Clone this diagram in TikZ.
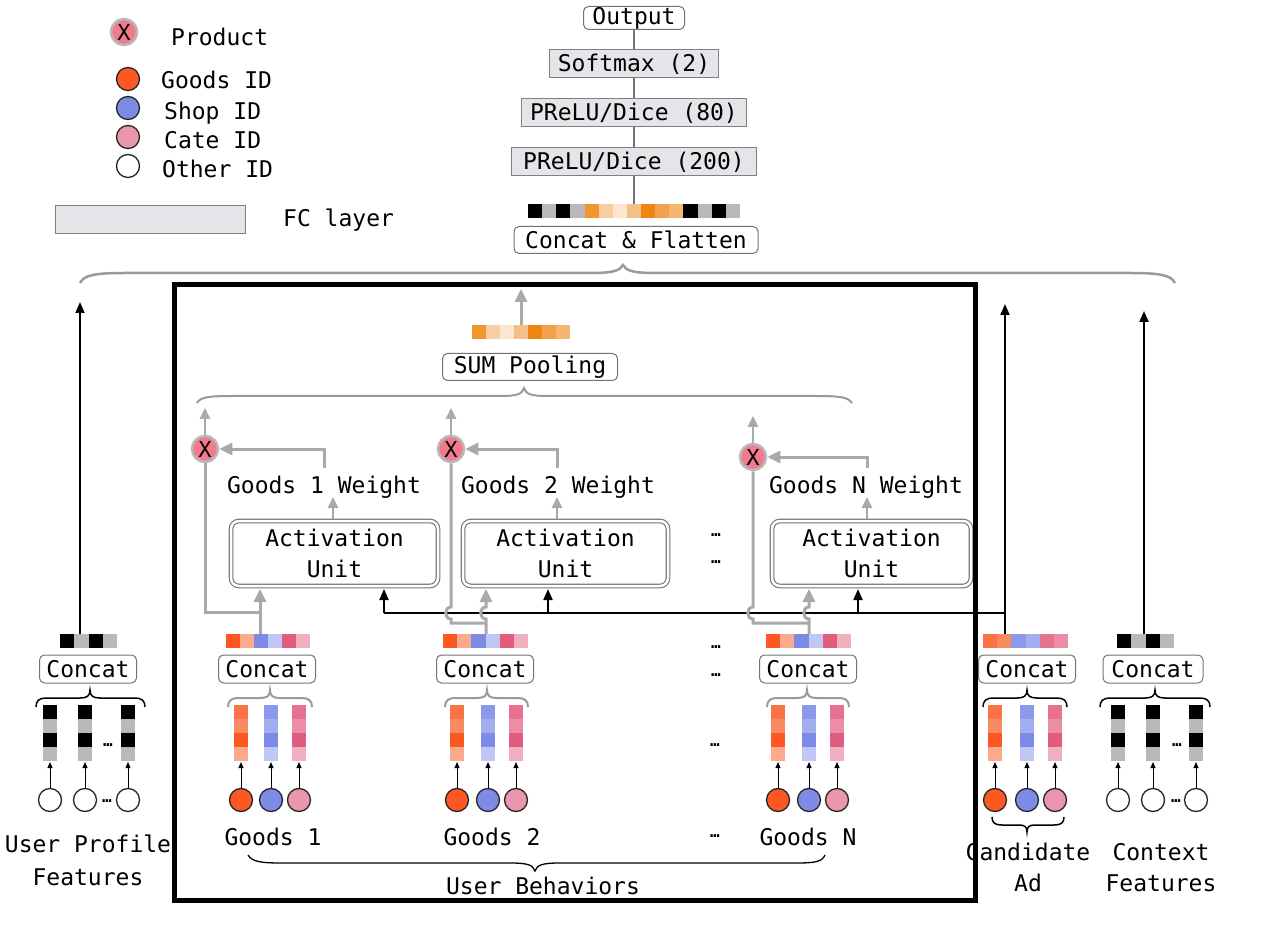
\documentclass[tikz,border=0pt]{standalone}
\usepackage{fontspec}
\setmonofont{DejaVu Sans Mono}
\usetikzlibrary{arrows.meta,calc}
\definecolor{pinkX}{HTML}{F37A8C}
\definecolor{goodsC}{HTML}{FD5722}
\definecolor{shopC}{HTML}{7B8BE6}
\definecolor{cateC}{HTML}{E995AB}
\definecolor{fcgray}{HTML}{E4E5E9}
\definecolor{lgray}{HTML}{B9B9B9}
\definecolor{agray}{HTML}{A9A9A9}
\definecolor{bgray}{HTML}{9A9A9A}
\definecolor{o1}{HTML}{F0962E}
\definecolor{o2}{HTML}{F8CDA0}
\definecolor{o3}{HTML}{FDE6D1}
\definecolor{o4}{HTML}{F3C08A}
\definecolor{o5}{HTML}{EE8711}
\definecolor{o6}{HTML}{F1A24A}
\definecolor{o7}{HTML}{F3B771}
\definecolor{ob1}{HTML}{F97346}
\definecolor{ob2}{HTML}{F98A63}
\definecolor{ob3}{HTML}{FD5722}
\definecolor{ob4}{HTML}{FBAA8C}
\definecolor{bb1}{HTML}{8C98EA}
\definecolor{bb2}{HTML}{A4AEEE}
\definecolor{bb3}{HTML}{7B8BE6}
\definecolor{bb4}{HTML}{C0C7F4}
\definecolor{pb1}{HTML}{E77190}
\definecolor{pb2}{HTML}{EB8DA5}
\definecolor{pb3}{HTML}{E25C80}
\definecolor{pb4}{HTML}{F0B0C0}
\newcommand\hvec[4]{\foreach \vcol [count=\vidx from 0] in {#4} {\fill[\vcol] ({#1+#3*\vidx},#2) rectangle ++(#3,14);}}
\newcommand\vbar[5]{\foreach \vcol [count=\vidx from 0] in {#2,#3,#4,#5} {\fill[\vcol] ({#1-7},{705+14*\vidx}) rectangle ++(14,14);}}
\newcommand\featcol[7]{\vbar{#2}{#4}{#5}{#6}{#7}\node[idc,fill=#3] (#1) at (#2,800) {};\draw[sarrow] (#1.north) -- (#2,762);}
\newcommand\mybrace[4]{\draw[#1] (#2,707) .. controls (#2,701) and ({#2+3},698) .. ({#2+10},698) -- ({#4-10},698) .. controls ({#4-3},698) and (#4,696) .. (#4,690) .. controls (#4,696) and ({#4+3},698) .. ({#4+10},698) -- ({#3-10},698) .. controls ({#3-3},698) and (#3,701) .. (#3,707);}
\begin{document}
\begin{tikzpicture}[x=1pt,y=-1pt,
 txt/.style={font=\fontsize{23}{28}\selectfont\ttfamily,inner sep=0pt},
 dots/.style={font=\fontsize{16}{18}\selectfont\ttfamily\bfseries,inner sep=0pt},
 rbox/.style={txt,draw=black!55,line width=1pt,rounded corners=5pt,fill=white},
 fc/.style={txt,draw=black!50,line width=1pt,fill=fcgray},
 aunit/.style={font=\fontsize{23}{31}\selectfont\ttfamily,align=center,draw=black!55,double=white,double distance=2.5pt,line width=1.1pt,rounded corners=8pt,inner sep=0pt},
 prod/.style={circle,fill=pinkX,draw=black!28,line width=2.5pt,minimum size=26pt,inner sep=0pt,font=\fontsize{22}{24}\selectfont\ttfamily},
 idc/.style={circle,draw=black!85,line width=1.3pt,minimum size=23pt,inner sep=0pt},
 garrow/.style={draw=agray,line width=3pt,-{Triangle[length=13pt,width=12pt]}},
 gsarrow/.style={draw=agray,line width=2.5pt,-{Triangle[length=11pt,width=10pt]}},
 gline/.style={draw=agray,line width=3pt},
 barrow/.style={draw=black,line width=2pt,-{Triangle[length=11pt,width=9pt]}},
 sarrow/.style={draw=black,line width=1pt,-{Triangle[length=6pt,width=5pt]}},
 tline/.style={draw=black!55,line width=1.3pt},
 vecnode/.style={inner sep=0pt,minimum height=14pt},
 gbrace/.style={draw=bgray,line width=2pt},
 kbrace/.style={draw=black,line width=1.5pt},
]
\fill[white] (0,0) rectangle (1262,933);
\useasboundingbox (0,0) rectangle (1262,933);
% legend
\node[prod] (lgX) at (124,32) {X};
\node[txt,anchor=west] (lgXt) at (171,37) {Product};
\node[idc,fill=goodsC] (lgG) at (128,79) {};
\node[txt,anchor=west] (lgGt) at (161,80) {Goods ID};
\node[idc,fill=shopC] (lgS) at (128,108) {};
\node[txt,anchor=west] (lgSt) at (164,113) {Shop ID};
\node[idc,fill=cateC] (lgC) at (128,137) {};
\node[txt,anchor=west] (lgCt) at (164,140) {Cate ID};
\node[idc,fill=white] (lgO) at (128,166) {};
\node[txt,anchor=west] (lgOt) at (162,169) {Other ID};
\node[fc,minimum width=190pt,minimum height=28pt] (lgF) at (150,220) {};
\node[txt,anchor=west] (lgFt) at (283,220) {FC layer};
% top stack
\node[rbox,minimum width=101pt,minimum height=23pt] (out) at (634,18) {Output};
\node[fc,minimum width=169pt,minimum height=28pt] (sm) at (634,64) {Softmax (2)};
\node[fc,minimum width=225pt,minimum height=28pt] (p80) at (634,113) {PReLU/Dice (80)};
\node[fc,minimum width=245pt,minimum height=28pt] (p200) at (634,162) {PReLU/Dice (200)};
\hvec{528}{204}{14.13}{black,lgray,black,lgray,o1,o2,o3,o4,o5,o6,o7,black,lgray,black,lgray}
\node[vecnode,minimum width=212pt] (topv) at (634,211) {};
\node[rbox,minimum width=244pt,minimum height=27pt] (cf) at (636,240) {Concat \& Flatten};
\draw[tline] (out) -- (sm);
\draw[tline] (sm) -- (p80);
\draw[tline] (p80) -- (p200);
\draw[tline] (p200) -- (topv);
% big brace
\draw[gbrace,line width=2.5pt] (80,283) .. controls (84,275) and (95,273) .. (125,273) -- (590,273) .. controls (612,273) and (620,271) .. (623,265) .. controls (626,271) and (634,273) .. (656,273) -- (1130,273) .. controls (1160,273) and (1171,275) .. (1175,283);
% sum pooling
\hvec{472}{325}{14}{o1,o2,o3,o4,o5,o6,o7}
\node[vecnode,minimum width=98pt] (sumv) at (521,332) {};
\coordinate (sumtip) at (521,289);
\draw[garrow] (sumv) -- (sumtip);
\node[rbox,minimum width=175pt,minimum height=27pt] (sp) at (530,367) {SUM Pooling};
\draw[gbrace] (197,403) .. controls (200,397) and (210,396) .. (232,396) -- (500,396) .. controls (518,396) and (522,394) .. (524,388) .. controls (526,394) and (530,396) .. (548,396) -- (815,396) .. controls (840,396) and (848,397) .. (852,403);
% products
\node[prod] (x1) at (205,449) {X};
\node[prod] (x2) at (451,449) {X};
\node[prod] (xn) at (753,457) {X};
\coordinate (x1t) at (205,408);
\coordinate (x2t) at (451,408);
\coordinate (xnt) at (753,416);
\draw[gsarrow] (x1) -- (x1t);
\draw[gsarrow] (x2) -- (x2t);
\draw[gsarrow] (xn) -- (xnt);
% weights
\node[txt] (w1) at (324,487) {Goods 1 Weight};
\node[txt] (w2) at (558,487) {Goods 2 Weight};
\node[txt] (wn) at (866,487) {Goods N Weight};
\draw[garrow] (324,468) |- (x1);
\draw[garrow] (557,468) |- (x2);
\draw[garrow] (867,468) |- (xn);
% activation units
\node[aunit,minimum width=207pt,minimum height=65pt] (au1) at (334.5,553.5) {Activation\\Unit};
\node[aunit,minimum width=205pt,minimum height=65pt] (au2) at (565.5,553.5) {Activation\\Unit};
\node[aunit,minimum width=199pt,minimum height=65pt] (aun) at (871.5,553.5) {Activation\\Unit};
\draw[gsarrow] (333,519) -- (333,497);
\draw[gsarrow] (557,519) -- (557,497);
\draw[gsarrow] (867,519) -- (867,497);
% dots
\node[dots] (d1) at (716,535) {…};
\node[dots] (d2) at (716,562) {…};
\node[dots] (d3) at (716,647) {…};
\node[dots] (d4) at (716,675) {…};
\node[dots] (d5) at (715,745) {…};
\node[dots] (d6) at (715,836) {…};
% black query line
\coordinate (bj) at (1005,613);
\draw[draw=black,line width=2pt] (bj) -- (384,613);
\draw[barrow] (384,613) -- (384,589);
\draw[barrow] (548,613) -- (548,589);
\draw[barrow] (858,613) -- (858,589);
% gray connectors
\draw[garrow] (260,634) -- (260,589);
\draw[gline] (260,612) -- (205,612) -- (x1);
\draw[garrow] (486,634) -- (486,619) .. controls (479,619) and (479,607) .. (486,607) -- (486,589);
\draw[gline] (x2) -- (451,607) .. controls (444,607) and (444,619) .. (451,619) -- (451,623) -- (486,623);
\draw[garrow] (809,634) -- (809,619) .. controls (802,619) and (802,607) .. (809,607) -- (809,589);
\draw[gline] (xn) -- (753,607) .. controls (746,607) and (746,619) .. (753,619) -- (753,623) -- (809,623);
% concat vectors
\hvec{60}{634}{14.25}{black,lgray,black,lgray}
\node[vecnode,minimum width=57pt] (uv) at (88.5,641) {};
\hvec{226}{634}{14}{ob3,ob4,bb3,bb4,pb3,pb4}
\node[vecnode,minimum width=84pt] (v1) at (268,641) {};
\hvec{443}{634}{14.17}{ob3,ob4,bb3,bb4,pb3,pb4}
\node[vecnode,minimum width=85pt] (v2) at (485.5,641) {};
\hvec{766}{634}{14.17}{ob3,ob4,bb3,bb4,pb3,pb4}
\node[vecnode,minimum width=85pt] (vn) at (808.5,641) {};
\hvec{983}{634}{14.17}{ob1,ob2,bb1,bb2,pb1,pb2}
\node[vecnode,minimum width=85pt] (av) at (1025.5,641) {};
\hvec{1117}{634}{14.25}{black,lgray,black,lgray}
\node[vecnode,minimum width=57pt] (cv) at (1145.5,641) {};
% long arrows
\coordinate (ut) at (80,302);
\coordinate (at) at (1005,304);
\coordinate (ct) at (1144,311);
\draw[barrow] (80,634) -- (ut);
\draw[barrow] (1005,634) -- (at);
\draw[barrow] (1144,634) -- (ct);
% concat nodes
\node[rbox,minimum width=97pt,minimum height=28pt] (cU) at (88,669) {Concat};
\node[rbox,minimum width=97pt,minimum height=28pt] (c1) at (267,669) {Concat};
\node[rbox,minimum width=97pt,minimum height=28pt] (c2) at (485,669) {Concat};
\node[rbox,minimum width=97pt,minimum height=28pt] (cn) at (808,669) {Concat};
\node[rbox,minimum width=97pt,minimum height=28pt] (cA) at (1027,669) {Concat};
\node[rbox,minimum width=100pt,minimum height=28pt] (cC) at (1153,669) {Concat};
% small braces
\mybrace{kbrace}{36}{145}{90}
\mybrace{gbrace}{228}{312}{270}
\mybrace{gbrace}{445}{528}{487}
\mybrace{gbrace}{767}{849}{807}
\mybrace{kbrace}{983}{1067}{1027}
\mybrace{kbrace}{1100}{1210}{1155}
% feature columns
\featcol{u1}{50}{white}{black}{lgray}{black}{lgray}
\featcol{u2}{85}{white}{black}{lgray}{black}{lgray}
\featcol{u3}{128}{white}{black}{lgray}{black}{lgray}
\node[dots] (ud1) at (108,745) {…};
\node[dots] (ud2) at (107,801) {…};
\featcol{g1a}{241}{goodsC}{ob1}{ob2}{ob3}{ob4}
\featcol{g1b}{271}{shopC}{bb1}{bb2}{bb3}{bb4}
\featcol{g1c}{299}{cateC}{pb1}{pb2}{pb3}{pb4}
\featcol{g2a}{457}{goodsC}{ob1}{ob2}{ob3}{ob4}
\featcol{g2b}{488}{shopC}{bb1}{bb2}{bb3}{bb4}
\featcol{g2c}{516}{cateC}{pb1}{pb2}{pb3}{pb4}
\featcol{gna}{778}{goodsC}{ob1}{ob2}{ob3}{ob4}
\featcol{gnb}{809}{shopC}{bb1}{bb2}{bb3}{bb4}
\featcol{gnc}{837}{cateC}{pb1}{pb2}{pb3}{pb4}
\featcol{a1}{995}{goodsC}{ob1}{ob2}{ob3}{ob4}
\featcol{a2}{1027}{shopC}{bb1}{bb2}{bb3}{bb4}
\featcol{a3}{1055}{cateC}{pb1}{pb2}{pb3}{pb4}
\featcol{k1}{1118}{white}{black}{lgray}{black}{lgray}
\featcol{k2}{1153}{white}{black}{lgray}{black}{lgray}
\featcol{k3}{1196}{white}{black}{lgray}{black}{lgray}
\node[dots] (kd1) at (1177,745) {…};
\node[dots] (kd2) at (1176,801) {…};
% candidate brace
\draw[kbrace] (992,817) .. controls (992,823) and (995,825) .. (1002,825) -- (1019,825) .. controls (1025,825) and (1027,827) .. (1027,832) .. controls (1027,827) and (1029,825) .. (1035,825) -- (1054,825) .. controls (1061,825) and (1064,823) .. (1064,817);
% labels
\node[txt] (g1l) at (273,837) {Goods 1};
\node[txt] (g2l) at (492,837) {Goods 2};
\node[txt] (gnl) at (808,837) {Goods N};
\draw[kbrace,line width=1.3pt] (248,855) .. controls (252,862) and (262,863) .. (282,863) -- (510,863) .. controls (528,863) and (533,865) .. (535,871) .. controls (537,865) and (542,863) .. (560,863) -- (795,863) .. controls (815,863) and (822,862) .. (825,855);
\node[txt] (ubl) at (543,886) {User Behaviors};
\node[txt] (upl1) at (88,844) {User Profile};
\node[txt] (upl2) at (88,877) {Features};
\node[txt] (cal1) at (1028,852) {Candidate};
\node[txt] (cal2) at (1028,883) {Ad};
\node[txt] (col1) at (1161,852) {Context};
\node[txt] (col2) at (1161,883) {Features};
% framing rectangle
\draw[line width=5pt] (174,285) rectangle (975,900);
\end{tikzpicture}
\end{document}
